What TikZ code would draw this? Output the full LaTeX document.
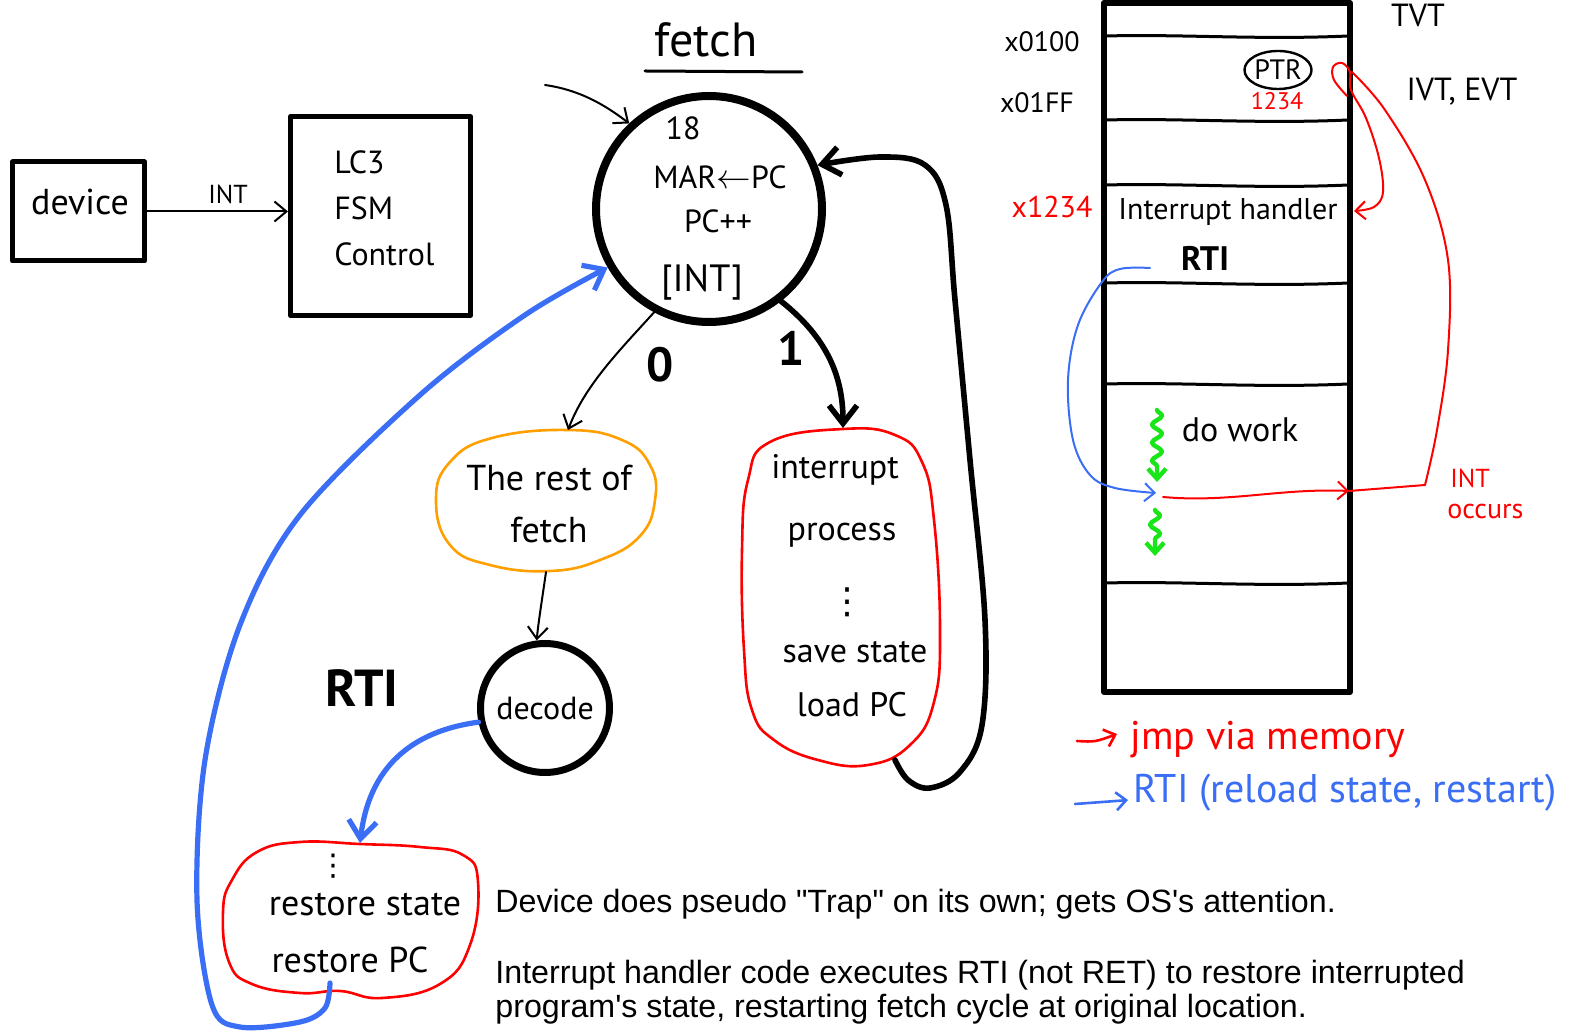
\documentclass[tikz,border=0pt]{standalone}
\usepackage{fontspec}
\setmainfont{Liberation Sans}
\newfontfamily\hand{PT Sans}
\newfontfamily\symfont{DejaVu Sans}
\usetikzlibrary{arrows.meta,decorations.pathmorphing,shapes.geometric}

\definecolor{penred}{RGB}{255,0,0}
\definecolor{penblue}{RGB}{58,110,245}
\definecolor{penorange}{RGB}{255,160,0}
\definecolor{pengreen}{RGB}{25,230,25}

\begin{document}
\begin{tikzpicture}[x=0.5pt,y=-0.5pt,line cap=round,line join=round,
  hw/.style={font=\hand\fontsize{#1}{#1}\selectfont, inner sep=0pt},
  hwb/.style={font=\hand\bfseries\fontsize{#1}{#1}\selectfont, inner sep=0pt},
  typed/.style={font=\fontsize{16.1}{17}\selectfont, inner sep=0pt, anchor=base west},
  boxpen/.style={draw, line width=2.5pt, inner sep=0pt},
  arr/.style={line width=1pt, -{Straight Barb[length=6pt,width=10pt]}},
  bigarr/.style={line width=2.8pt, -{Straight Barb[length=9pt,width=14pt]}},
  bluebig/.style={draw=penblue, line width=2.6pt, -{Straight Barb[length=9pt,width=14pt]}},
  bluethin/.style={draw=penblue, line width=1pt, -{Straight Barb[length=5pt,width=9pt]}},
  redarr/.style={draw=penred, line width=1pt, -{Straight Barb[length=5pt,width=9pt]}},
  redpen/.style={draw=penred, line width=1pt},
  blobred/.style={draw=penred, line width=1.3pt},
  bloborange/.style={draw=penorange, line width=1.3pt},
  greenwave/.style={draw=pengreen, line width=2.2pt, decorate,
    decoration={snake, amplitude=2.5pt, segment length=9pt, post length=7pt},
    -{Straight Barb[length=5pt,width=9pt]}},
  divider/.style={line width=1.5pt},
  dots/.style={font=\symfont\fontsize{#1}{#1}\selectfont, inner sep=0pt}
]
\useasboundingbox (0,0) rectangle (1574,1036);
\fill[white] (0,0) rectangle (1574,1036);

% ---------- device and controller ----------
\node[boxpen, minimum width=66pt, minimum height=49.5pt] (device) at (78.5,211.5) {};
\node[hw=18] (devtext) at (80,202) {device};
\node[boxpen, minimum width=90pt, minimum height=99.5pt] (lc3) at (380.5,216) {};
\node[font=\hand\fontsize{16}{23}\selectfont, inner sep=0pt, align=left, anchor=west] (lc3text) at (334,208) {LC3\\FSM\\Control};
\draw[arr] (device.east) -- (lc3.west |- device.east);
\node[hw=13] (intlabel) at (228,194) {INT};

% ---------- fetch state ----------
\node[hw=24] (title) at (706,40) {fetch};
\draw[line width=1.5pt] (645,71) -- (802,72);
\node[circle, draw, line width=4pt, minimum size=113pt, inner sep=0pt] (fetch) at (709,209) {};
\node[hw=16] (f18) at (683,128) {18};
\node[hw=16] (fmar) at (720,177) {MAR$\leftarrow$PC};
\node[hw=16] (fpc) at (718,221) {PC++};
\node[hw=19] (fint) at (702,282) {[INT]};
\coordinate (entry) at (545,85);
\draw[arr] (entry) .. controls (580,90) and (605,105) .. (fetch.133);

% ---------- branch 0: rest of fetch, decode ----------
\draw[bloborange] plot[smooth cycle, tension=0.75] coordinates {(436,500) (450,462) (492,438) (568,430) (622,440) (650,465) (655,500) (640,536) (600,560) (550,571) (490,565) (450,545)};
\node[font=\hand\fontsize{18}{26}\selectfont, inner sep=0pt, align=center] (resttext) at (549,504) {The rest of\\fetch};
\coordinate (restTop) at (568,430);
\coordinate (restBot) at (546,572);
\draw[arr] (fetch.-118) .. controls (620,350) and (585,385) .. (restTop);
\node[hwb=24] (zero) at (660,365) {0};

\node[circle, draw, line width=3.5pt, minimum size=64.5pt, inner sep=0pt, hw=16] (decode) at (545,708) {decode};
\draw[arr] (restBot) .. controls (542,600) and (538,625) .. (decode.97);

% ---------- branch 1: interrupt process ----------
\draw[blobred] plot[smooth cycle, tension=0.75] coordinates {(843,429) (895,435) (922,462) (934,520) (940,630) (934,702) (910,745) (868,765) (818,760) (774,740) (752,710) (744,650) (742,550) (748,480) (770,442)};
\coordinate (intTop) at (843,428);
\coordinate (intBot) at (895,760);
\node[hw=17] (ip1) at (835,470) {interrupt};
\node[hw=17] (ip2) at (842,535) {process};
\node[dots=18] (ip3) at (847,602) {⋮};
\node[hw=17] (ip4) at (855,652) {save state};
\node[hw=17] (ip5) at (852,705) {load PC};
\draw[bigarr] (fetch.-52) .. controls (830,340) and (843,380) .. (intTop);
\node[hwb=24] (one) at (791,348) {1};
\draw[bigarr] plot[smooth, tension=0.6] coordinates {(intBot) (908,780) (930,788) (960,772) (982,725) (985,620) (970,460) (955,300) (946,205) (925,165) (880,157) (fetch.22)};

% ---------- RTI path ----------
\node[hwb=26] (rtilabel) at (362,688) {RTI};
\draw[blobred] plot[smooth cycle, tension=0.75] coordinates {(300,842) (257,852) (232,880) (223,912) (229,962) (252,984) (300,993) (340,991) (382,998) (440,984) (470,945) (478,882) (463,855) (420,847) (360,844)};
\coordinate (rsTop) at (360,843);
\coordinate (rsBot) at (330,983);
\node[dots=15] (rs1) at (333,866) {⋮};
\node[hw=18] (rs2) at (365,905) {restore state};
\node[hw=18] (rs3) at (350,960) {restore PC};
\draw[bluebig] (decode.192) .. controls (420,730) and (370,760) .. (rsTop);
\draw[bluebig] plot[smooth, tension=0.55] coordinates {(rsBot) (325,1008) (300,1022) (240,1027) (212,1005) (197,900) (205,760) (240,625) (300,515) (420,395) (525,315) (fetch.-150)};

% ---------- notes ----------
\node[typed] (note1) at (495,912) {Device does pseudo \textquotedbl Trap\textquotedbl{} on its own; gets OS\textquotesingle s attention.};
\node[typed] (note2) at (495,983) {Interrupt handler code executes RTI (not RET) to restore interrupted};
\node[typed] (note3) at (495,1017) {program\textquotesingle s state, restarting fetch cycle at original location.};

% ---------- memory map ----------
\node[boxpen, line width=3pt, minimum width=123pt, minimum height=344.5pt] (mem) at (1227,347.5) {};
\foreach \yy in {36,120,185,283,384,583}
  \draw[divider] (1106,\yy) .. controls (1180,\yy-2) and (1260,\yy+4) .. (1348,\yy);
\node[hw=14] (a0100) at (1042,42) {x0100};
\node[hw=14] (a01ff) at (1037,103) {x01FF};
\node[hw=15, text=penred] (a1234) at (1052,207) {x1234};
\node[hw=16] (tvt) at (1418,15) {TVT};
\node[hw=16] (ivt) at (1462,92) {IVT, EVT};
\node[draw, ellipse, line width=1.2pt, minimum width=33pt, minimum height=19pt, hw=14] (ptr) at (1278,70) {PTR};
\node[hw=12, text=penred] (ptrval) at (1277,101) {1234};
\node[hw=15] (handler) at (1228,212) {Interrupt handler};
\node[hwb=17] (rtimem) at (1205,258) {RTI};
\node[hw=17] (dowork) at (1240,430) {do work};
\node[hw=13, text=penred, anchor=west] (occ1) at (1450,478) {INT};
\node[hw=14, text=penred, anchor=west] (occ2) at (1447,512) {occurs};

% pointer through the vector table
\coordinate (hdl) at (1354,211);
\draw[redarr] plot[smooth, tension=0.6] coordinates {(1347,96) (1334,80) (1333,67) (1342,63) (1350,72) (1351,90) (1366,118) (1379,158) (1383,192) (1374,207) (hdl)};
\coordinate (memInt) at (1349,491);
\coordinate (bend) at (1425,485);
\coordinate (intStart) at (1163,497);
\draw[redpen] (memInt) -- (bend);
\draw[redpen] plot[smooth, tension=0.6] coordinates {(bend) (1437,430) (1448,350) (1448,260) (1425,180) (1385,110) (1352,72)};
\draw[redarr] (intStart) .. controls (1230,503) and (1280,488) .. (memInt);

% return into the running program
\coordinate (rtiTail) at (1150,268);
\coordinate (workPt) at (1156,493);
\draw[bluethin] plot[smooth, tension=0.6] coordinates {(rtiTail) (1120,269) (1102,282) (1078,325) (1068,380) (1073,440) (1090,475) (1115,488) (workPt)};

% program flow
\coordinate (g1a) at (1157,410);
\coordinate (g1b) at (1157,482);
\coordinate (g2a) at (1155,510);
\coordinate (g2b) at (1155,556);
\draw[greenwave] (g1a) -- (g1b);
\draw[greenwave] (g2a) -- (g2b);

% ---------- legend ----------
\coordinate (lr1) at (1077,741);
\coordinate (lr2) at (1117,734);
\draw[redarr, line width=1.3pt] (lr1) .. controls (1095,742) .. (lr2);
\node[hw=20, text=penred] (legred) at (1268,740) {jmp via memory};
\coordinate (lb1) at (1075,804);
\coordinate (lb2) at (1128,800);
\draw[draw=penblue, line width=1.3pt, -{Straight Barb[length=5pt,width=9pt]}] (lb1) .. controls (1100,803) .. (lb2);
\node[hw=20, text=penblue, anchor=west] (legblue) at (1133,793) {RTI (reload state, restart)};
\end{tikzpicture}
\end{document}
